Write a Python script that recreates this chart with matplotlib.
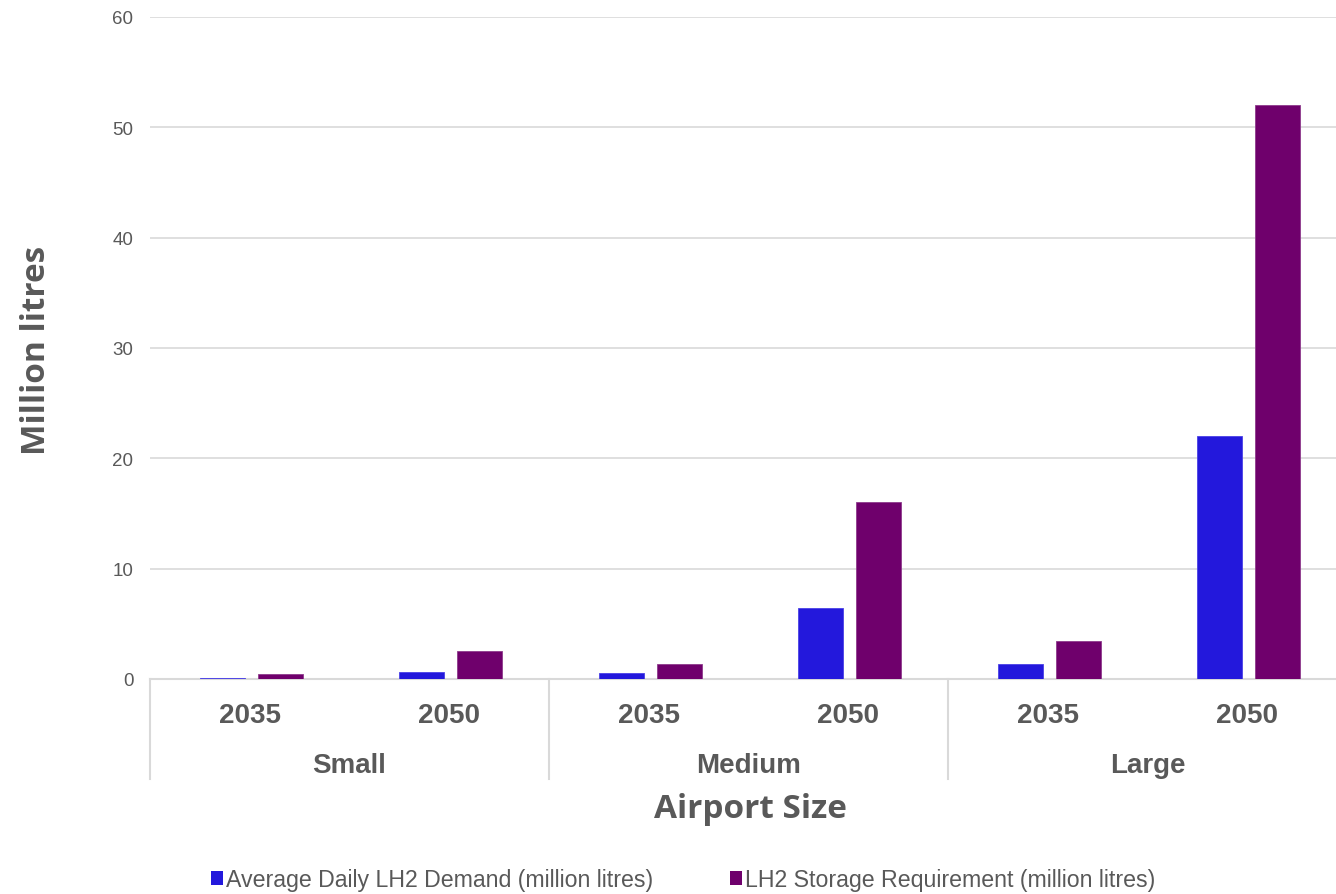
"""LH2 demand vs storage requirement by airport size."""
import matplotlib
matplotlib.use("Agg")
import matplotlib.pyplot as plt
from matplotlib.patches import Patch
from matplotlib.transforms import blended_transform_factory

GROUPS = ["Small", "Medium", "Large"]
YEARS = ["2035", "2050"]
DEMAND = [0.1, 0.6, 0.5, 6.4, 1.4, 22.0]     # average daily LH2 demand
STORAGE = [0.45, 2.5, 1.4, 16.0, 3.4, 52.0]  # LH2 storage requirement
SERIES = ["Average Daily LH2 Demand (million litres)",
          "LH2 Storage Requirement (million litres)"]
COLORS = ["#2318DC", "#6F006C"]
GREY = "#595959"
LINE = "#D9D9D9"

plt.rcParams["font.family"] = ["Liberation Sans", "DejaVu Sans"]

W, H = 1336, 895
AX_L, AX_R, AX_B, AX_T = 150, 1347, 680, 18   # plot area in pixels (runs past right edge)
fig = plt.figure(figsize=(W / 100, H / 100), dpi=100)
ax = fig.add_axes([AX_L / W, 1 - AX_B / H, (AX_R - AX_L) / W, (AX_B - AX_T) / H])

n = len(DEMAND)
xs = [i + 0.5 for i in range(n)]
w = 0.226
ax.bar([x - 0.137 for x in xs], DEMAND, width=w, color=COLORS[0],
       edgecolor="#4A40E6", linewidth=0.6, zorder=3)
ax.bar([x + 0.152 for x in xs], STORAGE, width=w, color=COLORS[1],
       edgecolor="#8E3A8C", linewidth=0.6, zorder=3)

ax.set_xlim(0, n)
ax.set_ylim(0, 60)
ax.set_yticks(range(0, 61, 10))
ax.tick_params(axis="y", length=0, pad=12, labelsize=13.5, labelcolor=GREY)
ax.set_xticks([])
ax.grid(axis="y", color=LINE, linewidth=1.2, zorder=0)
for s in ["top", "right", "left"]:
    ax.spines[s].set_visible(False)
ax.spines["bottom"].set_color(LINE)
ax.spines["bottom"].set_linewidth(1.5)

tr = blended_transform_factory(ax.transData, ax.transAxes)
px = 1 / (AX_B - AX_T)  # one pixel in axes-y units
for i, x in enumerate(xs):
    ax.text(x, -36 * px, YEARS[i % 2], transform=tr, ha="center", va="center",
            fontsize=20, fontweight="bold", color=GREY)
for g, name in enumerate(GROUPS):
    ax.text(2 * g + 1, -86 * px, name, transform=tr, ha="center", va="center",
            fontsize=20, fontweight="bold", color=GREY)
for b in [0, 2, 4]:
    ax.plot([b, b], [0, -100 * px], transform=tr, color=LINE, lw=1.5,
            clip_on=False)

fig.text(37 / W, 1 - 350 / H, "Million litres", rotation=90, ha="center",
         va="center", fontsize=24, fontweight="bold", color=GREY,
         family="Open Sans")
fig.text(750 / W, 1 - 810 / H, "Airport Size",
         ha="center", va="center", fontsize=24, fontweight="bold", color=GREY,
         family="Open Sans")

handles = [Patch(facecolor=c) for c in COLORS]
fig.legend(handles, SERIES, loc="center", bbox_to_anchor=(683 / W, 1 - 881 / H),
           ncol=2, frameon=False, fontsize=16.7, handlelength=0.55,
           handleheight=0.55, handletextpad=0.12, columnspacing=3.3,
           labelcolor=GREY)

fig.savefig("out.png", dpi=100)
